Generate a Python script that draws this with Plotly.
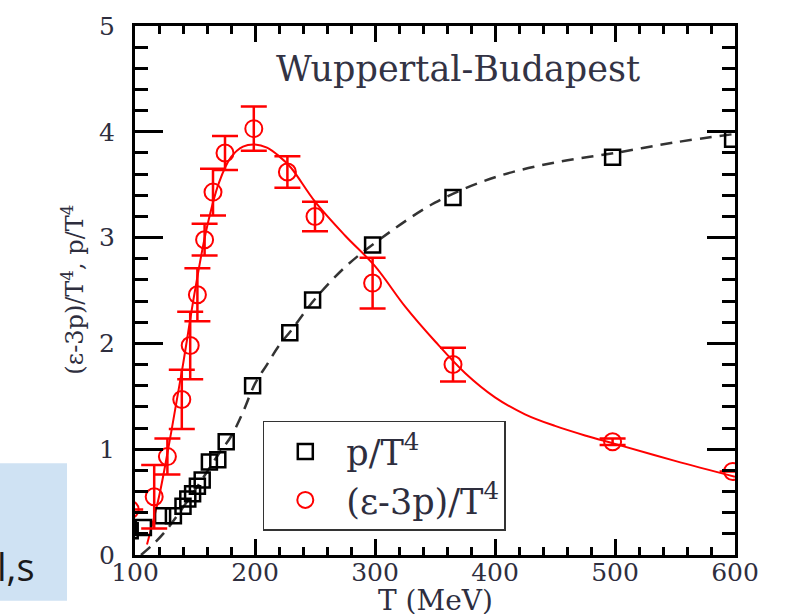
import plotly.graph_objects as go

# ---- data ----
# p/T^4 lattice points
T_p = [96, 107, 123, 132, 140, 144, 148, 152, 156, 162, 169, 176, 198, 229, 248, 298, 365, 498, 598]
p_val = [0.23, 0.26, 0.37, 0.37, 0.46, 0.53, 0.58, 0.65, 0.71, 0.88, 0.90, 1.07, 1.60, 2.10, 2.41, 2.93, 3.38, 3.76, 3.93]

# (eps-3p)/T^4 lattice points with errors
T_e = [96, 116, 127, 139, 146, 152, 158, 165, 175, 199, 227, 250, 298, 365, 498, 598]
e_val = [0.43, 0.55, 0.93, 1.47, 1.98, 2.46, 2.98, 3.43, 3.80, 4.03, 3.62, 3.20, 2.57, 1.80, 1.07, 0.79]
e_err = [0.0, 0.30, 0.17, 0.28, 0.32, 0.25, 0.15, 0.22, 0.16, 0.21, 0.15, 0.14, 0.24, 0.16, 0.03, 0.0]

# fitted curves
T_efit = [110, 120, 130, 140, 150, 160, 170, 180, 190, 200, 210, 220, 230, 250, 275, 300, 325, 350, 375, 400, 425, 450, 475, 500, 550, 600]
e_fit = [0.10, 0.55, 1.15, 1.80, 2.50, 3.10, 3.52, 3.76, 3.86, 3.88, 3.85, 3.77, 3.66, 3.34, 3.02, 2.73, 2.35, 2.02, 1.72, 1.49, 1.33, 1.22, 1.13, 1.05, 0.89, 0.74]

T_pfit = [105, 115, 125, 140, 155, 170, 180, 190, 200, 210, 220, 230, 250, 275, 300, 350, 400, 450, 500, 550, 600]
p_fit = [0.0, 0.10, 0.22, 0.45, 0.70, 0.96, 1.12, 1.35, 1.62, 1.80, 1.98, 2.12, 2.42, 2.72, 2.95, 3.33, 3.57, 3.71, 3.80, 3.90, 3.98]

SERIF = "DejaVu Serif"
TXT = "#2e2e3e"

fig = go.Figure()

fig.add_trace(go.Scatter(
    x=T_pfit, y=p_fit, mode="lines", line=dict(color="#333333", width=2.5, dash="12px,8px", shape="spline"),
    showlegend=False, hoverinfo="skip"))
fig.add_trace(go.Scatter(
    x=T_efit, y=e_fit, mode="lines", line=dict(color="#ff0000", width=2, shape="spline"),
    showlegend=False, hoverinfo="skip"))

fig.add_trace(go.Scatter(
    x=T_p, y=p_val, mode="markers", name="p/T<sup>4</sup>",
    marker=dict(symbol="square-open", size=15, color="black", line=dict(width=2.5, color="black"))))
fig.add_trace(go.Scatter(
    x=T_e, y=e_val, mode="markers", name="(ε-3p)/T<sup>4</sup>",
    marker=dict(symbol="circle-open", size=17, color="#ff0000", line=dict(width=2, color="#ff0000")),
    error_y=dict(type="data", array=e_err, visible=True, color="#ff0000", thickness=2.5, width=13)))

axis_common = dict(showline=True, linewidth=3, linecolor="black", mirror="allticks",
                   ticks="inside", tickwidth=2.5, tickcolor="black", showgrid=False, zeroline=False,
                   tickfont=dict(family=SERIF, size=25, color=TXT))

fig.update_xaxes(range=[100, 600], tickmode="linear", tick0=100, dtick=100, ticklen=16, ticklabelstandoff=-7,
                 minor=dict(tickmode="linear", tick0=100, dtick=20, ticks="inside", ticklen=8,
                            tickwidth=2.5, tickcolor="black", showgrid=False),
                 **axis_common)
fig.update_yaxes(range=[0, 5], tickmode="linear", tick0=0, dtick=1, ticklen=28, ticklabelstandoff=12,
                 minor=dict(tickmode="linear", tick0=0, dtick=0.2, ticks="inside", ticklen=13,
                            tickwidth=2.5, tickcolor="black", showgrid=False),
                 **axis_common)

fig.update_layout(
    width=790, height=614,
    margin=dict(l=135, r=55, t=13, b=59),
    paper_bgcolor="white", plot_bgcolor="white",
    legend=dict(x=0.213, y=0.046, xanchor="left", yanchor="bottom",
                bordercolor="#333333", borderwidth=1.5, bgcolor="white",
                font=dict(family=SERIF, size=35, color=TXT), itemwidth=72,
                tracegroupgap=0),
    annotations=[
        dict(text="Wuppertal-Budapest", x=0.5375, y=0.919, xref="paper", yref="paper",
             xanchor="center", yanchor="middle",
             showarrow=False, font=dict(family=SERIF, size=35, color="#333344")),
        dict(text="T (MeV)", x=0.5, y=-0.0865, xref="paper", yref="paper", showarrow=False,
             xanchor="center", yanchor="middle",
             font=dict(family=SERIF, size=28, color=TXT)),
        dict(text="(ε-3p)/T<sup>4</sup>, p/T<sup>4</sup>", x=-0.103, y=0.502, xref="paper", yref="paper",
             xanchor="center", yanchor="middle",
             showarrow=False, textangle=-90, font=dict(family=SERIF, size=24, color=TXT)),
        dict(text="l,s", x=-0.163, y=-0.021, xref="paper", yref="paper", xanchor="right", yanchor="middle",
             showarrow=False, font=dict(family="Open Sans", size=38, color="#1a1a1a")),
    ],
    shapes=[
        dict(type="rect", xref="paper", yref="paper", x0=-0.26, x1=-0.1133, y0=-0.0867, y1=0.1734,
             fillcolor="#cfe2f3", line=dict(width=0), layer="below"),
    ],
)

fig.write_html("out.html")
